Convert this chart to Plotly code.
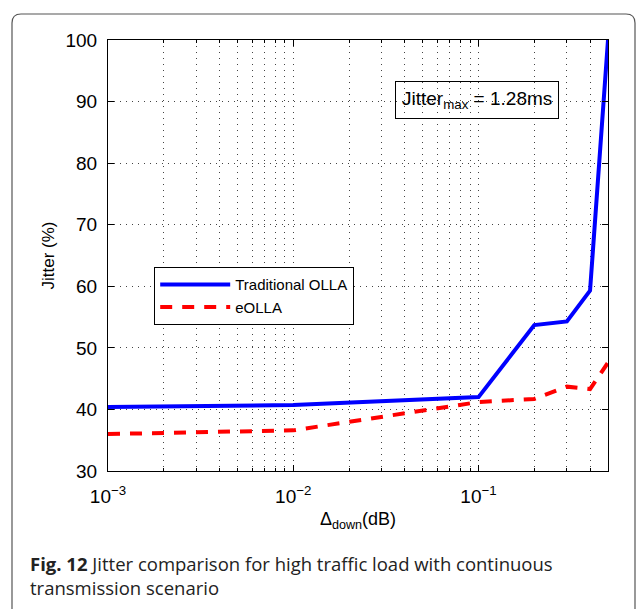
import plotly.graph_objects as go

x_vals = [0.001, 0.01, 0.1, 0.2, 0.3, 0.4, 0.5]
traditional_olla = [40.4, 40.7, 42.0, 53.7, 54.3, 59.3, 100.0]
eolla = [36.0, 36.6, 41.2, 41.7, 43.7, 43.3, 47.6]
x_tickvals = [0.001, 0.01, 0.1]
x_ticktext = ["10<sup>−3</sup>", "10<sup>−2</sup>", "10<sup>−1</sup>"]
minor_vals = [m * 10 ** e for e in (-3, -2, -1) for m in range(2, 10) if m * 10 ** e <= 0.5]

FONT = "Liberation Sans, Arial, Helvetica, sans-serif"
GRID = dict(showgrid=True, gridcolor="#444444", griddash="1px,5px", gridwidth=1)

fig = go.Figure()
fig.add_trace(go.Scatter(x=x_vals, y=traditional_olla, mode="lines", name="Traditional OLLA",
                         line=dict(color="#0000ff", width=4)))
fig.add_trace(go.Scatter(x=x_vals, y=eolla, mode="lines", name="eOLLA",
                         line=dict(color="#ff0000", width=4, dash="12px,10px")))

L, R, T, B = 108, 608, 40, 471
W, H = 637, 609
pw, ph = R - L, B - T

def px(xp):
    return (xp - L) / pw

def py(yp):
    return (B - yp) / ph

# rounded outer frame
x0, x1, y0, y1 = px(12), px(635), py(14), py(640)
rx, ry = 9 / pw, 9 / ph
path = (f"M {x0+rx},{y0} L {x1-rx},{y0} Q {x1},{y0} {x1},{y0-ry} "
        f"L {x1},{y1+ry} Q {x1},{y1} {x1-rx},{y1} L {x0+rx},{y1} Q {x0},{y1} {x0},{y1+ry} "
        f"L {x0},{y0-ry} Q {x0},{y0} {x0+rx},{y0} Z")
fig.add_shape(type="path", path=path, xref="paper", yref="paper",
              line=dict(color="#555555", width=1.2), layer="below")

fig.update_layout(
    width=W, height=H,
    margin=dict(l=L, r=W - R, t=T, b=H - B),
    paper_bgcolor="white", plot_bgcolor="white",
    font=dict(family=FONT, size=17, color="black"),
    showlegend=True,
    legend=dict(x=px(154), y=py(267), xanchor="left", yanchor="top",
                bgcolor="white", bordercolor="black", borderwidth=1.2,
                font=dict(size=15, family=FONT), tracegroupgap=2, itemwidth=70),
    xaxis=dict(type="log", range=[-3, -0.30103],
               tickvals=x_tickvals, ticktext=x_ticktext,
               ticks="inside", ticklen=6, tickcolor="black",
               showline=True, mirror="ticks", linecolor="black", linewidth=1.2,
               minor=dict(tickvals=minor_vals, ticks="inside", ticklen=3, tickcolor="black", **GRID),
               tickfont=dict(size=19), zeroline=False, ticklabelstandoff=8,
               title=dict(text="Δ<sub>down</sub>(dB)", font=dict(size=18), standoff=6),
               **GRID),
    yaxis=dict(range=[30, 100], dtick=10, tick0=30,
               ticks="inside", ticklen=6, tickcolor="black",
               showline=True, mirror="ticks", linecolor="black", linewidth=1.2,
               tickfont=dict(size=19), zeroline=False, ticklabelstandoff=6,
               title=dict(text="Jitter (%)", font=dict(size=17), standoff=6),
               **GRID),
)

fig.add_annotation(x=px(395), y=py(81), xref="paper", yref="paper", xanchor="left", yanchor="top",
                   text="Jitter<sub>max</sub> = 1.28ms", showarrow=False,
                   font=dict(size=19, family=FONT), bordercolor="black", borderwidth=1,
                   borderpad=6, bgcolor="rgba(0,0,0,0)")

fig.add_annotation(x=px(28), y=py(549), xref="paper", yref="paper", xanchor="left", yanchor="top",
                   align="left", showarrow=False,
                   text="<b>Fig. 12</b> Jitter comparison for high traffic load with continuous<br>transmission scenario",
                   font=dict(size=18.5, family="Open Sans, Noto Sans, sans-serif", color="#222222"))

fig.write_html("out.html")
